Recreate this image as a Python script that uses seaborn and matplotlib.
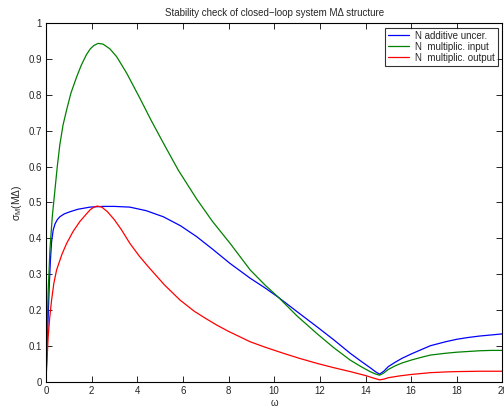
import numpy as np
import pandas as pd
import matplotlib
matplotlib.use("Agg")
import matplotlib.pyplot as plt
import seaborn as sns
from matplotlib.ticker import FuncFormatter

# values
w_add = [0, 0.05, 0.1, 0.15, 0.2, 0.25, 0.32, 0.4, 0.5, 0.61, 0.8, 1.05, 1.4, 1.93,
         2.5, 3.0, 3.68, 4.4, 5.15, 5.9, 6.6, 7.3, 8.07, 8.95, 9.6, 10.2, 11.0, 11.87,
         12.6, 13.33, 13.8, 14.2, 14.45, 14.62, 14.8, 15.0, 15.3, 15.6, 16.0, 16.4,
         16.84, 17.5, 18.0, 18.5, 19.0, 19.5, 20.0]
s_add = [0, 0.09, 0.18, 0.27, 0.34, 0.39, 0.423, 0.44, 0.452, 0.46, 0.468, 0.474,
         0.481, 0.487, 0.489, 0.489, 0.487, 0.477, 0.46, 0.435, 0.405, 0.37, 0.33,
         0.289, 0.262, 0.235, 0.196, 0.154, 0.118, 0.08, 0.058, 0.04, 0.028, 0.022,
         0.03, 0.043, 0.055, 0.066, 0.078, 0.089, 0.101, 0.112, 0.119, 0.124, 0.128,
         0.131, 0.134]

w_in = [0, 0.03, 0.1, 0.18, 0.28, 0.39, 0.5, 0.61, 0.75, 0.91, 1.1, 1.35, 1.55, 1.78,
        1.95, 2.1, 2.29, 2.5, 2.8, 3.1, 3.54, 4.12, 4.6, 5.15, 5.8, 6.6, 7.3, 8.07,
        8.95, 9.6, 10.2, 11.0, 11.87, 12.6, 13.33, 13.8, 14.2, 14.45, 14.62, 14.8,
        15.0, 15.3, 15.6, 16.0, 16.4, 16.84, 17.5, 18.0, 18.5, 19.0, 19.5, 20.0]
s_in = [0, 0.09, 0.25, 0.37, 0.46, 0.53, 0.6, 0.66, 0.715, 0.758, 0.805, 0.85, 0.882,
        0.912, 0.928, 0.937, 0.943, 0.941, 0.928, 0.906, 0.86, 0.79, 0.73, 0.665,
        0.59, 0.51, 0.447, 0.386, 0.312, 0.27, 0.235, 0.184, 0.135, 0.096, 0.061,
        0.043, 0.029, 0.022, 0.019, 0.025, 0.035, 0.045, 0.053, 0.061, 0.068, 0.075,
        0.08, 0.083, 0.085, 0.087, 0.088, 0.088]

w_out = [0, 0.05, 0.1, 0.17, 0.25, 0.35, 0.47, 0.7, 0.91, 1.2, 1.49, 1.75, 1.93, 2.1,
         2.25, 2.45, 2.7, 3.0, 3.3, 3.68, 4.1, 4.5, 5.2, 5.88, 6.5, 7.0, 7.5, 8.0,
         8.95, 9.6, 10.4, 11.1, 11.87, 12.6, 13.33, 14.0, 14.4, 14.62, 14.8, 15.0,
         15.5, 16.0, 16.84, 17.5, 18.0, 19.0, 20.0]
s_out = [0, 0.06, 0.126, 0.18, 0.228, 0.275, 0.312, 0.355, 0.386, 0.42, 0.447, 0.466,
         0.479, 0.487, 0.49, 0.487, 0.474, 0.452, 0.425, 0.386, 0.35, 0.32, 0.27,
         0.228, 0.197, 0.177, 0.158, 0.141, 0.112, 0.097, 0.08, 0.066, 0.052, 0.04,
         0.029, 0.018, 0.01, 0.006, 0.008, 0.012, 0.017, 0.021, 0.026, 0.028, 0.029,
         0.03, 0.03]

labels = ["N additive uncer.", "N  multiplic. input", "N  multiplic. output"]
colors = ["#0000ff", "#008000", "#ff0000"]

df = pd.concat([
    pd.DataFrame({"w": w_add, "s": s_add, "case": labels[0]}),
    pd.DataFrame({"w": w_in, "s": s_in, "case": labels[1]}),
    pd.DataFrame({"w": w_out, "s": s_out, "case": labels[2]}),
])

sns.set_style("ticks")
plt.rcParams["font.family"] = ["Liberation Sans", "DejaVu Sans"]
plt.rcParams["mathtext.fontset"] = "custom"
plt.rcParams["mathtext.rm"] = "Liberation Sans"
plt.rcParams["mathtext.it"] = "Liberation Sans"

fig = plt.figure(figsize=(5.04, 4.09), dpi=100)
ax = fig.add_axes([0.091, 0.066, 0.906, 0.878])

sns.lineplot(data=df, x="w", y="s", hue="case", palette=colors, sort=False,
             estimator=None, linewidth=0.9, ax=ax)

ax.set_xlim(0, 20)
ax.set_ylim(0, 1)
ax.set_xticks(np.arange(0, 21, 2))
ax.set_yticks(np.arange(0, 1.01, 0.1))
ax.yaxis.set_major_formatter(FuncFormatter(lambda v, p: f"{v:g}"))
ax.tick_params(direction="in", length=4, width=0.7, labelsize=7,
               top=True, right=True, pad=3)
for sp in ax.spines.values():
    sp.set_visible(True)
    sp.set_linewidth(0.8)
    sp.set_color("black")

ax.set_title("Stability check of closed\u2212loop system M\u0394 structure",
             fontsize=7, pad=5)
ax.set_xlabel("\u03c9", fontsize=7, labelpad=1)
ax.set_ylabel(r"$\sigma_M$(M$\Delta$)", fontsize=7.5, labelpad=3)

leg = ax.legend(loc="upper right", fontsize=7, frameon=True, fancybox=False,
                edgecolor="black", borderpad=0.3, labelspacing=0.1,
                handlelength=2.2, handletextpad=0.6, borderaxespad=0.5)
leg.get_frame().set_linewidth(0.8)
leg.set_title(None)

fig.savefig("out.png", dpi=100, facecolor="white")
